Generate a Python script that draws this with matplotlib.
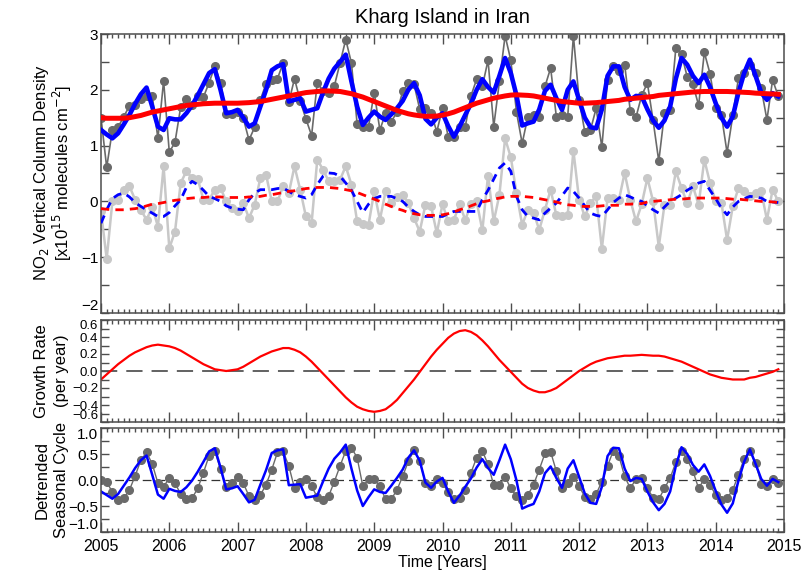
import numpy as np
import matplotlib.pyplot as plt
from matplotlib.ticker import MultipleLocator, FuncFormatter

plt.rcParams['font.family'] = ['Liberation Sans', 'DejaVu Sans']

# monthly time axis, Jan 2005 .. Dec 2014
t = 2005 + np.arange(120) / 12.0

# NO2 VCD monthly means [1e15 molec/cm2]
no2_monthly = [
    1.50, 0.61, 1.28, 1.33, 1.52, 1.71, 1.73, 1.83, 1.89, 1.89, 1.13, 2.16,
    0.88, 1.06, 1.69, 1.84, 1.73, 1.89, 1.87, 2.13, 2.42, 2.13, 1.57, 1.57,
    1.61, 1.49, 1.10, 1.33, 1.82, 2.11, 2.18, 2.20, 2.48, 1.78, 2.20, 1.80,
    1.48, 1.18, 2.13, 1.98, 1.95, 2.07, 2.48, 2.90, 2.48, 1.39, 1.34, 1.34,
    1.95, 1.28, 1.58, 1.43, 1.60, 1.97, 2.12, 2.10, 1.65, 1.67, 1.58, 1.25,
    1.67, 1.16, 1.16, 1.34, 1.34, 1.89, 2.19, 2.06, 2.53, 1.34, 2.15, 2.97,
    2.53, 1.60, 1.04, 1.52, 1.55, 1.52, 2.06, 2.39, 1.52, 1.55, 1.52, 2.97,
    1.82, 1.25, 1.28, 1.67, 0.97, 2.18, 2.42, 2.33, 2.45, 1.62, 1.51, 1.90,
    2.12, 1.45, 0.72, 1.58, 1.64, 2.75, 2.64, 2.23, 2.10, 1.72, 2.67, 2.29,
    1.67, 1.55, 0.87, 1.54, 2.21, 2.30, 2.45, 2.30, 2.03, 1.46, 2.18, 1.88,
]

# smoothed fit
no2_fit = [
    1.28, 1.20, 1.13, 1.22, 1.38, 1.55, 1.75, 1.92, 2.04, 1.70, 1.34, 1.28,
    1.49, 1.47, 1.47, 1.58, 1.72, 1.90, 2.10, 2.30, 2.37, 2.00, 1.58, 1.60,
    1.64, 1.50, 1.34, 1.40, 1.70, 2.00, 2.35, 2.42, 2.46, 1.79, 1.82, 1.85,
    1.61, 1.64, 1.67, 1.95, 2.20, 2.38, 2.50, 2.63, 2.15, 1.70, 1.37, 1.50,
    1.61, 1.52, 1.46, 1.56, 1.67, 1.80, 2.00, 2.12, 1.90, 1.48, 1.38, 1.50,
    1.58, 1.35, 1.16, 1.34, 1.55, 1.75, 2.00, 2.19, 2.05, 1.95, 2.25, 2.57,
    2.30, 1.90, 1.36, 1.40, 1.43, 1.65, 1.98, 2.09, 1.85, 1.64, 2.00, 2.15,
    1.82, 1.50, 1.33, 1.31, 1.65, 2.25, 2.42, 2.42, 2.05, 1.82, 1.89, 1.88,
    1.65, 1.45, 1.32, 1.45, 1.70, 2.20, 2.57, 2.45, 2.25, 2.12, 2.27, 2.05,
    1.76, 1.50, 1.34, 1.52, 1.95, 2.30, 2.54, 2.25, 1.95, 1.82, 1.94, 1.88,
]

# long-term trend
no2_trend = [
    1.50, 1.49, 1.49, 1.49, 1.49, 1.50, 1.52, 1.54, 1.57, 1.60, 1.62, 1.64,
    1.66, 1.68, 1.70, 1.72, 1.73, 1.74, 1.75, 1.755, 1.76, 1.76, 1.76, 1.76,
    1.76, 1.765, 1.77, 1.78, 1.79, 1.81, 1.83, 1.85, 1.87, 1.89, 1.91, 1.93,
    1.95, 1.96, 1.97, 1.98, 1.98, 1.975, 1.97, 1.95, 1.93, 1.90, 1.87, 1.83,
    1.79, 1.75, 1.71, 1.67, 1.63, 1.60, 1.57, 1.55, 1.535, 1.525, 1.525, 1.53,
    1.545, 1.57, 1.60, 1.64, 1.68, 1.72, 1.76, 1.79, 1.82, 1.85, 1.87, 1.89,
    1.905, 1.91, 1.905, 1.90, 1.89, 1.87, 1.85, 1.83, 1.81, 1.79, 1.78, 1.77,
    1.76, 1.76, 1.765, 1.77, 1.78, 1.79, 1.80, 1.81, 1.83, 1.84, 1.85, 1.86,
    1.87, 1.88, 1.90, 1.91, 1.92, 1.93, 1.94, 1.95, 1.96, 1.965, 1.97, 1.97,
    1.97, 1.97, 1.97, 1.965, 1.96, 1.955, 1.95, 1.94, 1.935, 1.93, 1.925, 1.92,
]

# deseasonalised anomalies
anom_monthly = [
    -0.18, -1.03, 0.00, 0.03, 0.21, 0.27, 0.03, -0.15, -0.33, -0.10, -0.45, 0.63,
    -0.84, -0.54, 0.33, 0.54, 0.42, 0.40, 0.03, 0.03, 0.21, 0.24, 0.00, -0.12,
    -0.18, -0.03, -0.30, -0.06, 0.42, 0.48, 0.00, 0.00, 0.27, 0.15, 0.63, 0.21,
    -0.27, -0.39, 0.75, 0.57, 0.36, 0.36, 0.39, 0.63, 0.30, -0.36, -0.40, -0.42,
    0.18, -0.33, 0.18, -0.03, 0.08, 0.12, -0.03, -0.30, -0.54, -0.06, -0.09, -0.57,
    -0.05, -0.36, -0.33, -0.05, -0.33, -0.05, 0.00, -0.52, 0.46, -0.36, 0.12, 1.13,
    0.79, 0.15, -0.42, -0.15, -0.20, -0.51, -0.15, 0.21, -0.25, -0.27, -0.24, 0.91,
    0.03, -0.27, -0.03, 0.09, -0.85, 0.06, 0.06, 0.03, 0.51, 0.03, -0.36, -0.05,
    0.42, 0.00, -0.81, -0.06, -0.06, 0.54, 0.24, -0.03, 0.27, -0.06, 0.75, 0.33,
    0.00, -0.02, -0.69, -0.09, 0.24, 0.18, 0.10, 0.15, 0.18, -0.33, 0.21, 0.00,
]

anom_fit = [
    -0.39, -0.15, 0.05, 0.12, 0.15, 0.08, -0.02, -0.09, -0.15, -0.21, -0.27, -0.27,
    -0.20, -0.08, 0.03, 0.25, 0.36, 0.30, 0.20, 0.09, 0.05, 0.00, -0.08, -0.12,
    -0.14, -0.15, 0.03, 0.15, 0.21, 0.21, 0.21, 0.23, 0.24, 0.18, 0.12, 0.09,
    0.06, 0.12, 0.30, 0.45, 0.51, 0.50, 0.45, 0.33, 0.20, 0.00, -0.20, -0.05,
    0.05, 0.09, 0.09, 0.09, 0.05, 0.00, -0.10, -0.18, -0.24, -0.27, -0.27, -0.27,
    -0.27, -0.22, -0.18, -0.18, -0.18, -0.18, -0.18, 0.03, 0.20, 0.40, 0.60, 0.69,
    0.54, 0.09, -0.15, -0.27, -0.30, -0.33, -0.21, -0.12, -0.03, 0.10, 0.24, 0.18,
    0.06, -0.08, -0.21, -0.25, -0.27, -0.15, -0.02, 0.06, 0.12, 0.08, 0.03, 0.00,
    -0.08, -0.15, -0.21, -0.10, 0.00, 0.06, 0.12, 0.20, 0.26, 0.33, 0.36, 0.20,
    0.05, -0.12, -0.24, -0.10, 0.00, 0.05, 0.09, 0.08, 0.06, 0.00, -0.01, -0.02,
]

anom_trend = [
    -0.13, -0.14, -0.15, -0.15, -0.15, -0.14, -0.13, -0.11, -0.08, -0.05, -0.04, -0.02,
    0.00, 0.02, 0.03, 0.05, 0.06, 0.07, 0.07, 0.08, 0.08, 0.08, 0.07, 0.07,
    0.07, 0.07, 0.08, 0.08, 0.09, 0.11, 0.12, 0.14, 0.16, 0.18, 0.19, 0.21,
    0.23, 0.24, 0.25, 0.25, 0.25, 0.24, 0.23, 0.21, 0.19, 0.16, 0.12, 0.08,
    0.04, 0.00, -0.05, -0.09, -0.13, -0.16, -0.20, -0.22, -0.24, -0.25, -0.25, -0.25,
    -0.24, -0.22, -0.19, -0.15, -0.12, -0.08, -0.04, -0.01, 0.01, 0.04, 0.06, 0.08,
    0.09, 0.09, 0.09, 0.08, 0.07, 0.05, 0.03, 0.01, -0.01, -0.04, -0.06, -0.07,
    -0.09, -0.09, -0.09, -0.09, -0.08, -0.07, -0.07, -0.07, -0.05, -0.05, -0.04, -0.04,
    -0.01, 0.00, 0.01, 0.02, 0.03, 0.04, 0.04, 0.05, 0.06, 0.06, 0.06, 0.06,
    0.06, 0.06, 0.05, 0.04, 0.04, 0.03, 0.02, 0.01, 0.00, 0.00, -0.01, -0.02,
]

# growth rate of the trend (per year)
growth_rate = [
    -0.10, -0.04, 0.02, 0.08, 0.13, 0.18, 0.22, 0.25, 0.28, 0.30, 0.31, 0.30,
    0.29, 0.27, 0.24, 0.20, 0.16, 0.12, 0.08, 0.05, 0.02, 0.01, 0.00, 0.01,
    0.02, 0.05, 0.09, 0.13, 0.17, 0.20, 0.23, 0.25, 0.27, 0.27, 0.25, 0.22,
    0.17, 0.11, 0.04, -0.03, -0.10, -0.17, -0.24, -0.31, -0.37, -0.42, -0.45, -0.47,
    -0.48, -0.47, -0.45, -0.40, -0.34, -0.26, -0.18, -0.10, -0.01, 0.08, 0.17, 0.25,
    0.32, 0.39, 0.44, 0.47, 0.48, 0.46, 0.42, 0.36, 0.29, 0.21, 0.13, 0.06,
    -0.01, -0.08, -0.15, -0.20, -0.23, -0.25, -0.25, -0.23, -0.20, -0.15, -0.10, -0.05,
    0.00, 0.04, 0.08, 0.11, 0.13, 0.15, 0.16, 0.17, 0.18, 0.18, 0.185, 0.19,
    0.185, 0.18, 0.18, 0.17, 0.15, 0.13, 0.11, 0.08, 0.05, 0.02, -0.01, -0.04,
    -0.06, -0.08, -0.09, -0.10, -0.10, -0.10, -0.08, -0.07, -0.05, -0.03, -0.01, 0.02,
]

# fitted seasonal cycle and detrended smoothed series
season_fit = [
    0.00, -0.03, -0.24, -0.38, -0.35, -0.19, 0.08, 0.38, 0.53, 0.31, -0.06, -0.13,
    0.04, -0.06, -0.27, -0.37, -0.35, -0.16, 0.14, 0.47, 0.55, 0.21, -0.14, -0.06,
    0.06, -0.06, -0.31, -0.38, -0.29, -0.09, 0.20, 0.53, 0.55, 0.27, -0.16, -0.03,
    0.02, -0.12, -0.33, -0.38, -0.31, -0.03, 0.27, 0.56, 0.62, 0.43, -0.12, 0.01,
    0.01, -0.12, -0.37, -0.37, -0.19, 0.07, 0.36, 0.57, 0.36, -0.05, -0.12, 0.02,
    -0.05, -0.24, -0.37, -0.35, -0.19, 0.14, 0.43, 0.56, 0.30, -0.10, -0.09, 0.06,
    -0.16, -0.31, -0.38, -0.29, -0.09, 0.20, 0.51, 0.54, 0.17, -0.16, -0.06, 0.06,
    -0.12, -0.32, -0.37, -0.27, -0.03, 0.27, 0.56, 0.46, 0.07, -0.16, 0.02, 0.04,
    -0.16, -0.34, -0.37, -0.16, 0.04, 0.34, 0.56, 0.40, 0.17, -0.16, 0.02, -0.09,
    -0.29, -0.38, -0.35, -0.19, 0.10, 0.41, 0.56, 0.33, -0.07, -0.11, 0.02, -0.06,
]

season_detr = [
    -0.22, -0.29, -0.36, -0.27, -0.11, 0.05, 0.23, 0.38, 0.47, 0.10, -0.28, -0.36,
    -0.17, -0.21, -0.23, -0.14, -0.01, 0.16, 0.35, 0.55, 0.61, 0.24, -0.18, -0.16,
    -0.12, -0.27, -0.43, -0.38, -0.09, 0.19, 0.52, 0.57, 0.59, -0.10, -0.09, -0.08,
    -0.34, -0.32, -0.30, -0.03, 0.22, 0.41, 0.53, 0.68, 0.22, -0.20, -0.50, -0.33,
    -0.18, -0.23, -0.25, -0.11, 0.04, 0.20, 0.43, 0.57, 0.37, -0.05, -0.15, -0.03,
    0.04, -0.22, -0.44, -0.30, -0.13, 0.03, 0.24, 0.40, 0.23, 0.10, 0.38, 0.68,
    0.40, -0.01, -0.55, -0.50, -0.46, -0.22, 0.13, 0.26, 0.04, -0.15, 0.22, 0.38,
    0.06, -0.26, -0.44, -0.46, -0.13, 0.46, 0.62, 0.61, 0.22, -0.02, 0.04, 0.02,
    -0.22, -0.43, -0.58, -0.46, -0.22, 0.27, 0.63, 0.50, 0.29, 0.16, 0.30, 0.08,
    -0.21, -0.47, -0.63, -0.45, -0.01, 0.35, 0.59, 0.31, 0.02, -0.11, 0.02, -0.04,
]

AX_COL = '#4d4d4d'
DARK = '#6a6a6a'
LIGHT = '#c8c8c8'


def minus(fmt):
    return FuncFormatter(lambda v, p: (fmt % v).replace('-', '\u2212'))


def style(ax, ymin, ymax, ymaj, ymin_step, yfmt, ysize=11):
    ax.set_xlim(2005, 2015)
    ax.set_ylim(ymin, ymax)
    for s in ax.spines.values():
        s.set_color(AX_COL)
        s.set_linewidth(1.1)
    ax.xaxis.set_major_locator(MultipleLocator(1))
    ax.xaxis.set_minor_locator(MultipleLocator(1 / 12))
    ax.yaxis.set_major_locator(MultipleLocator(ymaj))
    ax.yaxis.set_minor_locator(MultipleLocator(ymin_step))
    ax.yaxis.set_major_formatter(minus(yfmt))
    ax.xaxis.set_major_formatter(FuncFormatter(lambda v, p: '%d' % v))
    ax.tick_params(which='both', direction='in', top=True, right=True,
                   color=AX_COL, width=1, pad=3)
    ax.tick_params(axis='x', which='major', length=7, labelsize=11.5)
    ax.tick_params(axis='x', which='minor', length=3)
    ax.tick_params(axis='y', which='both', length=6, pad=2, labelsize=ysize)


def pin_edge_labels(ax, top=True, bottom=True):
    # keep the end labels inside the panel height
    lo, hi = ax.get_ylim()
    locs = ax.yaxis.get_majorticklocs()
    for tick, loc in zip(ax.yaxis.get_major_ticks(len(locs)), locs):
        if top and np.isclose(loc, hi):
            tick.label1.set_verticalalignment('top')
        if bottom and np.isclose(loc, lo):
            tick.label1.set_verticalalignment('bottom')


fig = plt.figure(figsize=(8.03, 5.74), dpi=100)
left, width = 101 / 803, 683 / 803
ax1 = fig.add_axes([left, 261 / 574, width, 279 / 574])
ax2 = fig.add_axes([left, 152 / 574, width, 102 / 574])
ax3 = fig.add_axes([left, 42 / 574, width, 104 / 574])

# top: NO2 columns and anomalies
ax1.plot(t, no2_monthly, '-o', color=DARK, lw=1.2, ms=5.5, mec=DARK, zorder=2)
ax1.plot(t, anom_monthly, '-o', color=LIGHT, lw=1.8, ms=5.5, mec=LIGHT, zorder=2)
ax1.plot(t, no2_fit, color='blue', lw=3.3, zorder=3)
ax1.plot(t, anom_fit, color='blue', lw=2.0, ls=(0, (3, 2.2)), zorder=3)
ax1.plot(t, no2_trend, color='red', lw=3.6, zorder=4)
ax1.plot(t, anom_trend, color='red', lw=2.0, ls=(0, (3, 2.2)), zorder=4)
style(ax1, -2, 3, 1, 0.5, '%.0f')
ax1.tick_params(axis='x', labelbottom=False)
ax1.set_title('Kharg Island in Iran', fontsize=14.5, pad=8)
pin_edge_labels(ax1, top=False)

# middle: growth rate
ax2.axhline(0, color='#555555', lw=1.3, ls=(0, (9, 5)))
ax2.plot(t, growth_rate, color='red', lw=1.6)
style(ax2, -0.6, 0.6, 0.2, 0.1, '%.1f', ysize=9.5)
ax2.tick_params(axis='x', labelbottom=False)
pin_edge_labels(ax2)

# bottom: seasonal cycle
ax3.axhline(0, color='#333333', lw=0.9, ls=(0, (7, 4)))
ax3.plot(t, season_fit, '-o', color=DARK, lw=1.0, ms=5.5, mec=DARK)
ax3.plot(t, season_detr, color='blue', lw=1.8)
style(ax3, -1, 1, 0.5, 0.25, '%.1f')
ax3.tick_params(axis='x', which='major', pad=5)
ax3.set_xlabel('Time [Years]', fontsize=11.5, labelpad=1)
pin_edge_labels(ax3)

fs = 12
fig.text(42 / 803, 1 - 173 / 574, 'NO$_2$ Vertical Column Density',
         rotation=90, ha='center', va='center', fontsize=fs)
fig.text(62 / 803, 1 - 173 / 574, '[x10$^{15}$ molecules cm$^{-2}$]',
         rotation=90, ha='center', va='center', fontsize=fs)
fig.text(42 / 803, 1 - 371 / 574, 'Growth Rate',
         rotation=90, ha='center', va='center', fontsize=fs)
fig.text(62 / 803, 1 - 371 / 574, '(per year)',
         rotation=90, ha='center', va='center', fontsize=fs)
fig.text(42 / 803, 1 - 480 / 574, 'Detrended',
         rotation=90, ha='center', va='center', fontsize=fs)
fig.text(62 / 803, 1 - 480 / 574, 'Seasonal Cycle',
         rotation=90, ha='center', va='center', fontsize=fs)

fig.savefig('out.png', dpi=100)
